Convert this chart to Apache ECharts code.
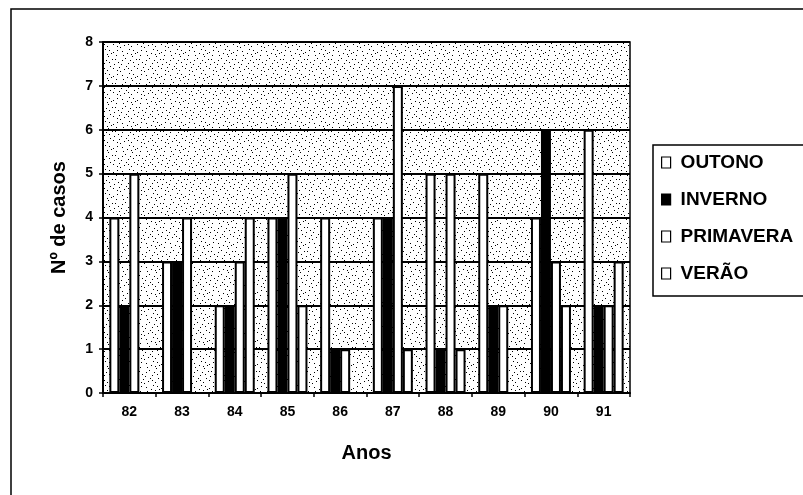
<!DOCTYPE html>
<html><head><meta charset="utf-8">
<script src="https://cdn.jsdelivr.net/npm/echarts@6/dist/echarts.min.js"></script>
<style>html,body{margin:0;padding:0;background:#fff}#c{width:803px;height:495px}</style>
</head><body><div id="c"></div>
<script>
const categories = ['82','83','84','85','86','87','88','89','90','91'];
const outono    = [4,3,2,4,4,4,5,5,4,6];
const inverno   = [2,3,2,4,1,4,1,2,6,2];
const primavera = [5,4,3,5,1,7,5,2,3,2];
const verao     = [0,0,4,2,0,1,1,0,2,3];
const seriesNames = ['OUTONO','INVERNO','PRIMAVERA','VERÃO'];
const seriesValues = [outono, inverno, primavera, verao];
const seriesFill = ['#ffffff','#000000','#ffffff','#ffffff'];
const yMin = 0, yMax = 8, yStep = 1;

function makePattern(){
  const c = document.createElement('canvas'); c.width = 24; c.height = 24;
  const g = c.getContext('2d'); g.fillStyle = '#ffffff'; g.fillRect(0,0,24,24);
  g.fillStyle = '#000000';
  const dots = [[2,3],[9,1],[15,5],[21,2],[5,10],[12,8],[19,11],[1,16],[8,15],[14,18],[22,14],[4,21],[11,22],[17,20],[20,7],[7,5],
                [3,7],[13,2],[18,16],[23,19],[6,18],[10,12],[16,11],[0,23],[21,22],[13,14],[8,20],[2,12],[17,4],[11,6]];
  dots.forEach(d => g.fillRect(d[0], d[1], 1, 1));
  return c;
}

const font = 'Liberation Sans, Arial, sans-serif';
const chart = echarts.init(document.getElementById('c'));
chart.setOption({
  animation: false,
  backgroundColor: '#ffffff',
  graphic: [{
    type: 'rect', silent: true,
    shape: { x: 11, y: 9, width: 820, height: 520 },
    style: { fill: 'none', stroke: '#000', lineWidth: 1.5 }
  }],
  grid: {
    left: 103, right: 173, top: 42, bottom: 102,
    show: true,
    backgroundColor: { image: makePattern(), repeat: 'repeat' },
    borderColor: '#000', borderWidth: 1.5
  },
  legend: {
    data: seriesNames,
    orient: 'vertical',
    left: 653, top: 145,
    icon: 'rect',
    itemWidth: 9, itemHeight: 11, itemGap: 18,
    padding: [8, 40, 13, 8],
    borderColor: '#000', borderWidth: 1.5,
    textStyle: { fontFamily: font, fontWeight: 'bold', fontSize: 19, color: '#000', padding: [0, 0, 0, 5] },
    itemStyle: { borderColor: '#000', borderWidth: 1.2 }
  },
  xAxis: {
    type: 'category', data: categories,
    name: 'Anos', nameLocation: 'middle', nameGap: 50,
    nameTextStyle: { fontFamily: font, fontWeight: 'bold', fontSize: 20, color: '#000' },
    axisLine: { lineStyle: { color: '#000', width: 2 } },
    axisTick: { show: true, length: 4, lineStyle: { color: '#000', width: 1.5 } },
    axisLabel: { fontFamily: font, fontWeight: 'bold', fontSize: 14, color: '#000', margin: 12 }
  },
  yAxis: {
    type: 'value', min: yMin, max: yMax, interval: yStep,
    name: 'Nº de casos', nameLocation: 'middle', nameGap: 34,
    nameTextStyle: { fontFamily: font, fontWeight: 'bold', fontSize: 20, color: '#000' },
    axisLine: { show: true, lineStyle: { color: '#000', width: 2 } },
    axisTick: { show: true, length: 4, lineStyle: { color: '#000', width: 1.5 } },
    axisLabel: { fontFamily: font, fontWeight: 'bold', fontSize: 14, color: '#000', margin: 10 },
    splitLine: { show: true, lineStyle: { color: '#000', width: 2 } }
  },
  series: seriesNames.map((n, i) => ({
    name: n, type: 'bar', data: seriesValues[i],
    barWidth: 10, barGap: '0%',
    itemStyle: { color: seriesFill[i], borderColor: '#000', borderWidth: 2 }
  }))
});
</script></body></html>
